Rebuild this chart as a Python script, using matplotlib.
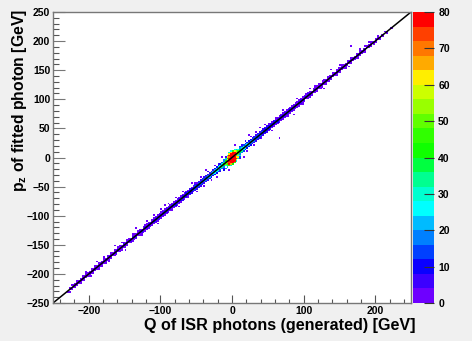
import numpy as np
import matplotlib
matplotlib.use("Agg")
import matplotlib.pyplot as plt
from matplotlib.colors import ListedColormap, BoundaryNorm
from matplotlib.ticker import MultipleLocator

plt.rcParams["font.family"] = ["Liberation Sans", "DejaVu Sans"]
plt.rcParams["font.weight"] = "bold"
plt.rcParams["mathtext.fontset"] = "custom"
plt.rcParams["mathtext.bf"] = "Liberation Sans:bold"
plt.rcParams["mathtext.rm"] = "Liberation Sans:bold"

# ── histogram content (2.5 GeV bins) ─────────────────────────────────────
BIN = 2.5
Q_CENTRES = [-228.75 + BIN * k for k in range(184)]
# counts on the diagonal (y = Q)
DIAG = [0, 1, 0, 2, 3, 3, 5, 4, 4, 5, 3, 5, 6, 4, 5, 6, 5, 7, 5, 6, 7, 6,
        6, 7, 5, 8, 6, 7, 8, 6, 7, 8, 7, 9, 7, 8, 6, 9, 8, 7, 9, 8, 10, 8,
        9, 10, 8, 11, 9, 10, 12, 9, 11, 10, 12, 11, 10, 13, 11, 12, 13, 12, 14, 12, 13, 15,
        14, 13, 15, 16, 14, 17, 15, 18, 17, 19, 18, 20, 21, 20, 23, 24, 26, 28, 30, 33,
        37, 42, 48, 56, 68, 92,
        90, 66, 55, 47, 41, 36, 32, 29, 27, 25, 23, 22, 21, 19, 20, 18, 17, 18, 16, 15,
        16, 14, 15, 13, 14, 12,
        13, 12, 11, 12, 13, 10, 11, 12, 10, 11, 9, 10, 11, 9, 10, 8, 9, 10, 8, 9, 8, 9,
        8, 7, 9, 8, 7, 8, 6, 7, 8, 6, 7, 6, 7, 5, 6, 7, 5, 6, 5, 6, 4, 5,
        6, 5, 4, 5, 4, 5, 3, 4, 5, 3, 4, 3, 4, 2, 1, 0, 1, 0, 0, 1, 0, 0]
# one bin above the diagonal
UP1 = [0, 1, 0, 1, 1, 2, 1, 2, 1, 1, 2, 1, 2, 1, 3, 1, 2, 2, 1, 3, 2, 2,
       2, 3, 1, 2, 3, 2, 1, 3, 2, 4, 2, 3, 2, 3, 4, 2, 3, 2, 4, 3, 3, 4,
       3, 4, 5, 3, 4, 6, 4, 5, 3, 6, 5, 4, 6, 5, 7, 5, 6, 4, 7, 6, 8, 6,
       8, 9, 10, 9, 11, 12, 11, 13, 12, 14, 15, 14, 16, 18, 17, 20, 22, 24, 26, 28,
       31, 35, 42, 62, 80, 90,
       88, 82, 65, 45, 36, 30, 26, 23, 21, 19, 17, 16, 15, 14, 13, 12, 13, 11, 10, 11,
       9, 10, 9, 8, 8, 7,
       7, 6, 5, 6, 5, 4, 6, 4, 5, 4, 3, 5, 4, 3, 4, 3, 4, 2, 3, 3, 2, 3,
       2, 3, 2, 1, 3, 2, 2, 1, 3, 2, 1, 2, 2, 1, 2, 1, 2, 2, 1, 1, 2, 1,
       1, 2, 1, 1, 0, 2, 1, 1, 1, 0, 1, 1, 0, 1, 0, 1, 0, 0, 1, 0, 0, 0]
# one bin below the diagonal
DN1 = [1, 0, 1, 1, 2, 1, 1, 2, 1, 2, 1, 2, 2, 1, 2, 3, 1, 2, 2, 1, 3, 2,
       3, 2, 2, 3, 2, 4, 3, 2, 3, 3, 4, 2, 3, 4, 3, 3, 4, 3, 3, 5, 4, 3,
       4, 5, 4, 5, 4, 5, 6, 5, 6, 5, 6, 7, 5, 6, 7, 6, 8, 7, 7, 8, 7, 9,
       9, 10, 11, 10, 12, 13, 12, 14, 15, 14, 16, 17, 18, 20, 21, 22, 24, 26, 28, 31,
       35, 40, 48, 70, 85, 92,
       90, 85, 70, 48, 38, 32, 27, 24, 22, 20, 18, 17, 16, 14, 13, 13, 12, 11, 11, 10,
       10, 9, 8, 8, 7, 8,
       6, 7, 5, 6, 6, 4, 5, 5, 4, 5, 3, 4, 4, 3, 4, 3, 3, 4, 2, 3, 3, 2,
       3, 2, 2, 3, 1, 2, 2, 3, 1, 2, 2, 1, 2, 1, 2, 2, 1, 1, 2, 1, 1, 2,
       1, 1, 2, 1, 1, 0, 1, 1, 0, 1, 1, 0, 1, 0, 1, 0, 1, 0, 0, 1, 0, 0]
# two bins above the diagonal
UP2 = [0, 0, 1, 0, 0, 1, 0, 0, 1, 0, 1, 0, 0, 1, 0, 1, 0, 1, 0, 0, 1, 0,
       1, 0, 1, 0, 1, 0, 1, 1, 0, 1, 0, 1, 2, 0, 1, 1, 0, 1, 1, 0, 2, 1,
       1, 2, 0, 1, 2, 1, 1, 2, 1, 2, 1, 3, 1, 2, 2, 1, 3, 2, 2, 3, 2, 3,
       3, 2, 4, 3, 3, 4, 3, 5, 4, 5, 4, 6, 5, 6, 7, 6, 8, 9, 10, 11,
       13, 16, 21, 40, 70, 85,
       85, 78, 55, 24, 18, 15, 12, 10, 9, 8, 8, 7, 6, 7, 5, 6, 5, 4, 5, 4,
       3, 4, 3, 4, 3, 3,
       2, 3, 2, 3, 1, 2, 2, 1, 2, 2, 1, 2, 1, 1, 2, 1, 1, 2, 0, 1, 1, 1,
       1, 0, 1, 1, 0, 1, 1, 0, 1, 0, 1, 1, 0, 1, 0, 0, 1, 0, 1, 0, 0, 1,
       0, 1, 0, 0, 1, 0, 0, 1, 0, 0, 0, 1, 0, 0, 0, 0, 0, 0, 0, 0, 0, 0]
# two bins below the diagonal
DN2 = [0, 1, 0, 0, 1, 0, 0, 1, 0, 1, 0, 0, 1, 0, 1, 0, 0, 1, 0, 1, 0, 1,
       0, 1, 1, 0, 1, 1, 0, 1, 1, 0, 2, 1, 0, 1, 1, 2, 1, 0, 1, 2, 1, 1,
       2, 1, 2, 1, 2, 2, 1, 3, 2, 1, 2, 3, 2, 2, 3, 2, 3, 3, 2, 3, 4, 3,
       4, 3, 4, 5, 3, 5, 4, 6, 5, 6, 6, 7, 6, 8, 8, 9, 10, 11, 12, 14,
       16, 19, 25, 45, 75, 88,
       88, 80, 60, 26, 19, 16, 13, 11, 10, 9, 8, 7, 7, 6, 6, 5, 5, 4, 4, 5,
       3, 4, 3, 3, 2, 3,
       2, 2, 3, 1, 2, 2, 1, 2, 1, 2, 1, 1, 2, 1, 1, 0, 1, 1, 1, 0, 1, 1,
       0, 1, 1, 0, 1, 0, 1, 1, 0, 0, 1, 0, 1, 0, 0, 1, 0, 0, 1, 0, 0, 0,
       1, 0, 0, 0, 1, 0, 0, 0, 0, 1, 0, 0, 0, 0, 0, 0, 0, 0, 0, 0, 0, 0]
# the fat blob around zero: (Q, y, counts)
CORE_X = [-3.75, -3.75, -3.75, -3.75, -3.75,
          -1.25, -1.25, -1.25, -1.25, -1.25, -1.25,
          1.25, 1.25, 1.25, 1.25, 1.25,
          3.75, 3.75, 3.75, 3.75, 3.75,
          6.25, 6.25, 6.25, 6.25, 8.75, 8.75,
          -6.25, -6.25, -6.25, -6.25, -8.75, -8.75,
          11.25, 11.25, 11.25, -11.25, -11.25]
CORE_Y = [3.75, 6.25, 8.75, -11.25, -13.75,
          6.25, 8.75, 11.25, -8.75, -11.25, -13.75,
          8.75, 11.25, -6.25, -8.75, -11.25,
          11.25, 13.75, -3.75, -6.25, -8.75,
          13.75, -1.25, -3.75, -6.25, 1.25, -1.25,
          1.25, 3.75, -13.75, -16.25, -1.25, -18.75,
          18.75, 3.75, 1.25, -3.75, -21.25]
CORE_N = [85, 60, 30, 80, 45,
          85, 60, 25, 85, 65, 30,
          80, 45, 90, 80, 40,
          60, 25, 85, 80, 45,
          35, 80, 60, 30, 60, 35,
          60, 30, 50, 20, 35, 18,
          15, 30, 12, 18, 10]
# isolated entries away from the band: Q, offset from y = Q, counts
OUT_Q = [-205, -196, -188, -180, -171, -163, -155, -149, -140, -133, -126, -118,
         -110, -104, -98, -94, -88, -84, -79, -73, -68, -62, -57, -52, -48, -44,
         -40, -36, -33, -29, -25, -22, -19, -16, -14, -12, -10, -5, 4, 10, 13,
         15, 18, 21, 24, 27, 31, 34, 38, 42, 46, 51, 55, 60, 66, 72, 78, 85, 91,
         99, 108, 116, 128, 139, 150, 163, 167, 178, 190]
OUT_DY = [8, -9, 10, 8, -8, 11, 9, -10, 8, 12, -8, 9,
          10, -9, 8, 13, 9, -8, 11, -10, 9, -8, 12, 8, -11, 10,
          -8, 14, 9, -10, 11, -13, 8, -9, 14, -8, 11, -16, 17, -11, 9,
          -14, 11, -9, 15, 9, -11, 10, 13, -8, 11, 8, -10, 9, -33, 10, -8, -12, 9,
          -8, 10, 8, -9, 11, 8, -8, 25, 9, 8]
OUT_N = [1, 1, 2, 1, 1, 1, 2, 1, 1, 1, 2, 1,
         2, 1, 2, 1, 3, 2, 1, 1, 2, 2, 1, 3, 2, 2,
         3, 1, 4, 3, 3, 2, 5, 4, 2, 6, 4, 2, 2, 4, 6,
         2, 4, 3, 2, 3, 2, 3, 1, 2, 2, 2, 1, 2, 1, 1, 1, 1, 1,
         1, 1, 1, 1, 1, 1, 1, 1, 1, 1]

# ROOT-like 20 level palette, 0..80
PALETTE = ["#6e00ff", "#3c00ff", "#0a00ff", "#0040ff", "#0080ff", "#00bbff",
           "#00ffff", "#00ffd0", "#00ff90", "#00ff40", "#10ff00", "#30ff00",
           "#60ff00", "#99ff00", "#ccff00", "#ffee00", "#ffaa00", "#ff7700",
           "#ff4000", "#ff0000"]
LEVELS = list(range(0, 84, 4))

# ── fill the 2D histogram ────────────────────────────────────────────────
NB = 200
edges = np.linspace(-250, 250, NB + 1)
H = np.zeros((NB, NB))


def fill(x, y, n):
    ix = int((x + 250) // BIN)
    iy = int((y + 250) // BIN)
    if 0 <= ix < NB and 0 <= iy < NB:
        H[iy, ix] += n


for q, d, u1, l1, u2, l2 in zip(Q_CENTRES, DIAG, UP1, DN1, UP2, DN2):
    fill(q, q, d)
    fill(q, q + BIN, u1)
    fill(q, q - BIN, l1)
    fill(q, q + 2 * BIN, u2)
    fill(q, q - 2 * BIN, l2)
for x, y, n in zip(CORE_X, CORE_Y, CORE_N):
    fill(x, y, n)
for q, dy, n in zip(OUT_Q, OUT_DY, OUT_N):
    fill(q, q + dy, n)

Hm = np.ma.masked_where(H <= 0, H)

cmap = ListedColormap(PALETTE)
cmap.set_over(PALETTE[-1])
norm = BoundaryNorm(LEVELS, cmap.N, clip=True)

# ── figure ───────────────────────────────────────────────────────────────
BG = "#f0f0f0"
fig = plt.figure(figsize=(4.72, 3.41), dpi=100)
fig.patch.set_facecolor(BG)
ax = fig.add_axes([0.1123, 0.1114, 0.7585, 0.8534])
ax.set_facecolor("white")

mesh = ax.pcolormesh(edges, edges, Hm, cmap=cmap, norm=norm)
ax.plot([-250, 250], [-250, 250], color="black", lw=1.1)

ax.set_xlim(-250, 250)
ax.set_ylim(-250, 250)
ax.xaxis.set_major_locator(MultipleLocator(100))
ax.xaxis.set_minor_locator(MultipleLocator(20))
ax.yaxis.set_major_locator(MultipleLocator(50))
ax.yaxis.set_minor_locator(MultipleLocator(10))
ax.tick_params(axis="x", which="major", direction="in", length=6, width=0.8,
               color="#555555", labelsize=7.5, pad=2.5)
ax.tick_params(axis="x", which="minor", direction="in", length=3, width=0.8,
               color="#555555")
ax.tick_params(axis="y", which="major", direction="in", length=8.5, width=0.8,
               color="#777777", labelsize=7.5, pad=2)
ax.tick_params(axis="y", which="minor", direction="in", length=4.3, width=0.8,
               color="#555555")
for s in ax.spines.values():
    s.set_color("#777777")
    s.set_linewidth(1.0)

# colour scale
cax = fig.add_axes([0.875, 0.1114, 0.0445, 0.8534])
cb = fig.colorbar(mesh, cax=cax, ticks=range(0, 90, 10))
cb.outline.set_visible(False)
cax.tick_params(direction="in", length=7, width=0.8, color="#333333",
                labelsize=7.5, pad=3)
cax.minorticks_off()

fig.text(0.881, 0.046, "Q of ISR photons (generated) [GeV]", ha="right",
         va="center", fontsize=11.6, fontweight="bold")
fig.text(0.042, 0.975, r"p$_{\mathbf{z}}$ of fitted photon [GeV]", ha="center",
         va="top", rotation=90, fontsize=11.3, fontweight="bold")

fig.savefig("out.png", facecolor=BG)
